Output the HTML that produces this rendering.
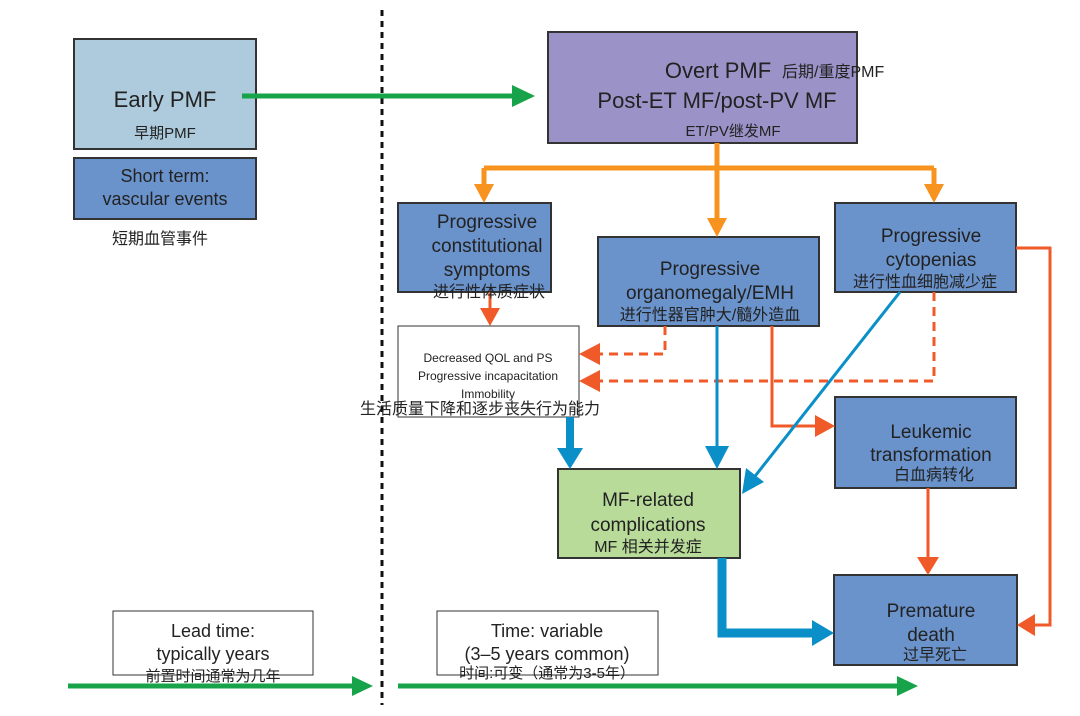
<!DOCTYPE html>
<html><head><meta charset="utf-8"><style>body{margin:0;background:#fff}svg{display:block}text{font-family:"Liberation Sans","Noto Sans CJK SC",sans-serif;fill:#222}</style></head><body>
<svg width="1080" height="716" viewBox="0 0 1080 716" xmlns="http://www.w3.org/2000/svg">
<line x1="382" y1="10" x2="382" y2="705" stroke="#111" stroke-width="3" stroke-dasharray="6,5"/>
<g stroke="#333" stroke-width="2">
<rect x="74" y="39" width="182" height="110" fill="#adcbdd"/>
<rect x="74" y="158" width="182" height="61" fill="#6a92cb"/>
<rect x="548" y="32" width="309" height="111" fill="#9b93c7"/>
<rect x="398" y="203" width="153" height="89" fill="#6a92cb"/>
<rect x="598" y="237" width="221" height="89" fill="#6a92cb"/>
<rect x="835" y="203" width="181" height="89" fill="#6a92cb"/>
<rect x="835" y="397" width="181" height="91" fill="#6a92cb"/>
<rect x="558" y="469" width="182" height="89" fill="#b8db99"/>
<rect x="834" y="575" width="183" height="90" fill="#6a92cb"/>
</g>
<g stroke="#333" stroke-width="1" fill="#fff">
<rect x="398" y="326" width="181" height="91"/>
<rect x="113" y="611" width="200" height="64"/>
<rect x="437" y="611" width="221" height="64"/>
</g>
<g stroke="#16a34a" stroke-width="5" fill="none">
<line x1="242" y1="96" x2="515" y2="96"/>
<line x1="68" y1="686" x2="355" y2="686"/>
<line x1="398" y1="686" x2="900" y2="686"/>
</g>
<g fill="#16a34a">
<path d="M512,85L535,96L512,107z"/>
<path d="M352,676L373,686L352,696z"/>
<path d="M897,676L918,686L897,696z"/>
</g>
<g stroke="#f7931e" stroke-width="5" fill="none">
<path d="M717,143V168M484,168H934M484,168V188M717,168V222M934,168V188"/>
</g>
<g fill="#f7931e">
<path d="M474,184L494,184L484,203z"/>
<path d="M707,218L727,218L717,237z"/>
<path d="M924,184L944,184L934,203z"/>
</g>
<g stroke="#f05a28" stroke-width="3" fill="none">
<path d="M490,292V312"/>
<path d="M665,326V354H596" stroke-dasharray="9,6"/>
<path d="M934,292V381H596" stroke-dasharray="9,6"/>
<path d="M772,326V426H818"/>
<path d="M1016,248H1050V625H1032"/>
<path d="M928,488V560"/>
</g>
<g fill="#f05a28">
<path d="M480,308L500,308L490,326z"/>
<path d="M600,343L600,365L579,354z"/>
<path d="M600,370L600,392L579,381z"/>
<path d="M815,415L835,426L815,437z"/>
<path d="M1035,614L1035,636L1017,625z"/>
<path d="M917,557L939,557L928,575z"/>
</g>
<g stroke="#0a8fc8" fill="none">
<path d="M570,417V452" stroke-width="8"/>
<path d="M717,326V452" stroke-width="3"/>
<path d="M900,292L752,480" stroke-width="3"/>
<path d="M722,558V633H815" stroke-width="9"/>
</g>
<g fill="#0a8fc8">
<path d="M557,448L583,448L570,469z"/>
<path d="M705,446L729,446L717,469z"/>
<path d="M742,494L746,468L764,482z"/>
<path d="M812,620L834,633L812,646z"/>
</g>
<g text-anchor="middle">
<text x="165" y="107" font-size="22">Early PMF</text>
<text x="165" y="138" font-size="15">早期PMF</text>
<text x="165" y="182" font-size="18">Short term:</text>
<text x="165" y="205" font-size="18">vascular events</text>
<text x="160" y="244" font-size="16">短期血管事件</text>
<text x="718" y="78" font-size="22">Overt PMF</text><text x="782" y="77" font-size="16" text-anchor="start">后期/重度PMF</text>
<text x="717" y="108" font-size="22">Post-ET MF/post-PV MF</text>
<text x="733" y="136" font-size="15">ET/PV继发MF</text>
<text x="487" y="228" font-size="19">Progressive</text>
<text x="487" y="252" font-size="19">constitutional</text>
<text x="487" y="276" font-size="19">symptoms</text>
<text x="489" y="297" font-size="16">进行性体质症状</text>
<text x="710" y="275" font-size="19">Progressive</text>
<text x="710" y="299" font-size="19">organomegaly/EMH</text>
<text x="710" y="320" font-size="16">进行性器官肿大/髓外造血</text>
<text x="931" y="242" font-size="19">Progressive</text>
<text x="931" y="266" font-size="19">cytopenias</text>
<text x="925" y="287" font-size="16">进行性血细胞减少症</text>
<text x="488" y="362" font-size="12">Decreased QOL and PS</text>
<text x="488" y="380" font-size="12">Progressive incapacitation</text>
<text x="488" y="398" font-size="12">Immobility</text>
<text x="480" y="414" font-size="16">生活质量下降和逐步丧失行为能力</text>
<text x="931" y="438" font-size="19">Leukemic</text>
<text x="931" y="461" font-size="19">transformation</text>
<text x="934" y="480" font-size="16">白血病转化</text>
<text x="648" y="506" font-size="19">MF-related</text>
<text x="648" y="531" font-size="19">complications</text>
<text x="648" y="552" font-size="16">MF 相关并发症</text>
<text x="931" y="617" font-size="19">Premature</text>
<text x="931" y="641" font-size="19">death</text>
<text x="935" y="660" font-size="16">过早死亡</text>
<text x="213" y="637" font-size="18">Lead time:</text>
<text x="213" y="660" font-size="18">typically years</text>
<text x="213" y="681" font-size="15">前置时间通常为几年</text>
<text x="547" y="637" font-size="18">Time: variable</text>
<text x="547" y="660" font-size="18">(3–5 years common)</text>
<text x="547" y="678" font-size="15">时间:可变（通常为3-5年）</text>
</g>
</svg>
</body></html>
